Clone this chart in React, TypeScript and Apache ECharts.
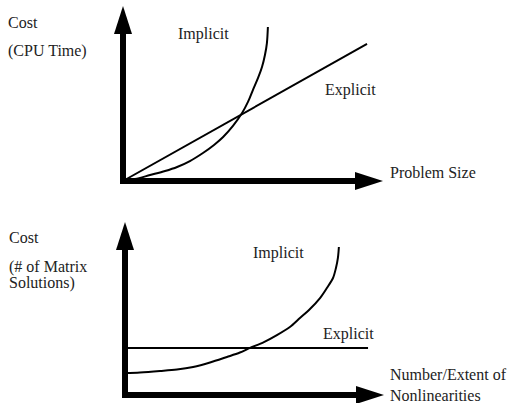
import React, { useEffect, useRef } from "react";
import * as echarts from "echarts";

// Top panel: cost (CPU time) vs problem size
const topImplicit: [number, number][] = [
  [0, 0], [4.9, 1.2], [11.0, 3.7], [17.1, 6.2], [22.0, 8.7], [27.2, 12.4],
  [32.5, 17.4], [37.0, 22.4], [40.7, 27.3], [44.7, 34.2], [48.4, 42.2],
  [50.8, 49.1], [52.8, 56.5], [54.9, 64.0], [56.5, 70.8], [57.7, 78.3],
  [58.5, 85.7], [58.9, 95.7],
];
const topExplicit: [number, number][] = [[0, 0], [99.2, 85.1]];

// Bottom panel: cost (# of matrix solutions) vs nonlinearities
const bottomImplicit: [number, number][] = [
  [0, 13.8], [6.1, 14.2], [14.3, 15.1], [21.2, 16.0], [27.8, 17.6],
  [34.7, 20.4], [41.6, 23.9], [46.9, 26.7], [51.0, 29.6], [56.7, 33.3],
  [62.0, 37.7], [67.3, 42.8], [71.4, 48.4], [75.5, 54.1], [79.6, 61.0],
  [82.4, 67.3], [84.9, 73.6], [86.1, 79.9], [86.9, 86.2], [87.3, 93.1],
];
const bottomExplicit: [number, number][] = [[0, 29.6], [99.2, 29.6]];

const FONT = "Liberation Serif";
const TEXT_COLOR = "#222";

function axis(gridIndex: number) {
  return {
    type: "value" as const,
    gridIndex,
    min: 0,
    max: 100,
    axisLine: {
      show: true,
      onZero: false,
      symbol: ["none", "triangle"],
      symbolSize: [18, 28],
      lineStyle: { color: "#000", width: 6, cap: "square" },
    },
    axisTick: { show: false },
    axisLabel: { show: false },
    splitLine: { show: false },
  };
}

function label(text: string, x: number, y: number) {
  return {
    type: "text",
    x,
    y,
    style: {
      text,
      fill: TEXT_COLOR,
      fontFamily: FONT,
      fontSize: 16,
      verticalAlign: "middle",
    },
  };
}

export default function App() {
  const ref = useRef<HTMLDivElement>(null);
  useEffect(() => {
    if (!ref.current) return;
    const chart = echarts.init(ref.current, null, { renderer: "svg" });
    const lineStyle = { color: "#000", width: 2 };
    chart.setOption({
      animation: false,
      backgroundColor: "#fff",
      grid: [
        { left: 123, top: 20, width: 246, height: 161 },
        { left: 125, top: 236, width: 245, height: 159 },
      ],
      xAxis: [axis(0), axis(1)],
      yAxis: [axis(0), axis(1)],
      series: [
        { type: "line", name: "Implicit", xAxisIndex: 0, yAxisIndex: 0, data: topImplicit, smooth: 0.3, showSymbol: false, lineStyle },
        { type: "line", name: "Explicit", xAxisIndex: 0, yAxisIndex: 0, data: topExplicit, showSymbol: false, lineStyle },
        { type: "line", name: "Implicit", xAxisIndex: 1, yAxisIndex: 1, data: bottomImplicit, smooth: 0.3, showSymbol: false, lineStyle },
        { type: "line", name: "Explicit", xAxisIndex: 1, yAxisIndex: 1, data: bottomExplicit, showSymbol: false, lineStyle },
      ],
      graphic: [
        label("Cost", 8, 22),
        label("(CPU Time)", 8, 50),
        label("Implicit", 178, 33),
        label("Explicit", 325, 89),
        label("Problem Size", 390, 172),
        label("Cost", 9, 237),
        label("(# of Matrix", 9, 266),
        label("Solutions)", 9, 282),
        label("Implicit", 253, 252),
        label("Explicit", 323, 333),
        label("Number/Extent of", 390, 374),
        label("Nonlinearities", 390, 395),
      ],
    });
    return () => chart.dispose();
  }, []);
  return (
    <div
      ref={ref}
      style={{ position: "absolute", left: 0, top: 0, width: 515, height: 403 }}
    />
  );
}
